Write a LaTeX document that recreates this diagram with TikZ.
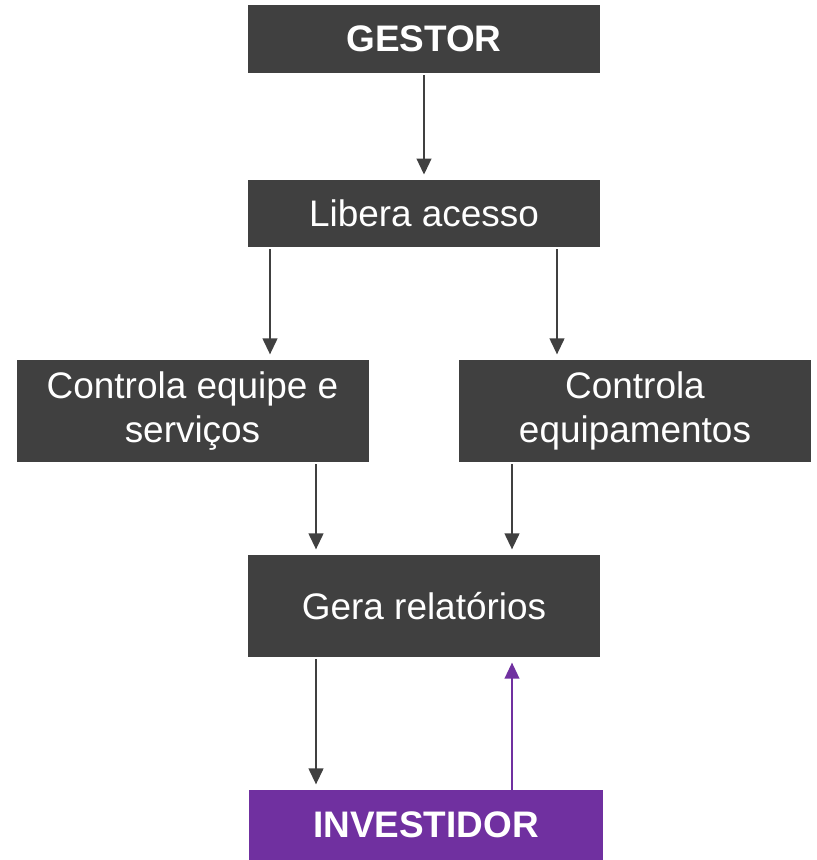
\documentclass[tikz,border=0pt]{standalone}
\usepackage{fontspec}
\setmainfont{Liberation Sans}
\usetikzlibrary{arrows.meta}
\definecolor{boxgray}{HTML}{404040}
\definecolor{invpurple}{HTML}{7030A0}

\begin{document}
\begin{tikzpicture}[x=0.75pt,y=-0.75pt,
    box/.style={fill=boxgray, text=white, inner sep=0pt, minimum width=264pt,
      align=center, font=\fontsize{27.7}{33}\selectfont},
    arr/.style={-{Triangle[length=12pt,width=11pt]}, line width=1.6pt, draw=boxgray,
      shorten >=4pt, shorten <=1.5pt},
    invarr/.style={arr, draw=invpurple, fill=invpurple, line width=1.3pt, shorten <=0pt}]
			\useasboundingbox (0,0) rectangle (817,860);
			\node[box, minimum height=51pt] (gestor) at (424,39) {\textbf{GESTOR}};
			\node[box, minimum height=50pt] (lib) at (424,213.5) {Libera acesso};
			\node[box, minimum height=76.5pt] (ceq) at (192.5,411) {Controla equipe e\\serviços};
			\node[box, minimum height=76.5pt] (ceqp) at (635,411) {Controla\\equipamentos};
			\node[box, minimum height=76.5pt] (gera) at (424,606) {Gera relatórios};
			\node[box, fill=invpurple, minimum width=265pt, minimum height=52.5pt] (inv) at (426,825) {\textbf{INVESTIDOR}};
			% x positions of the arrows
			\coordinate (xa) at (270,0);
			\coordinate (xb) at (557,0);
			\coordinate (xc) at (316,0);
			\coordinate (xd) at (512,0);
			\draw[arr] (gestor) -- (lib);
			\draw[arr] (lib.south -| xa) -- (ceq.north -| xa);
			\draw[arr] (lib.south -| xb) -- (ceqp.north -| xb);
			\draw[arr] (ceq.south -| xc) -- (gera.north -| xc);
			\draw[arr] (ceqp.south -| xd) -- (gera.north -| xd);
			\draw[arr] (gera.south -| xc) -- (inv.north -| xc);
			\draw[invarr] (inv.north -| xd) -- (gera.south -| xd);
		\end{tikzpicture}
\end{document}
